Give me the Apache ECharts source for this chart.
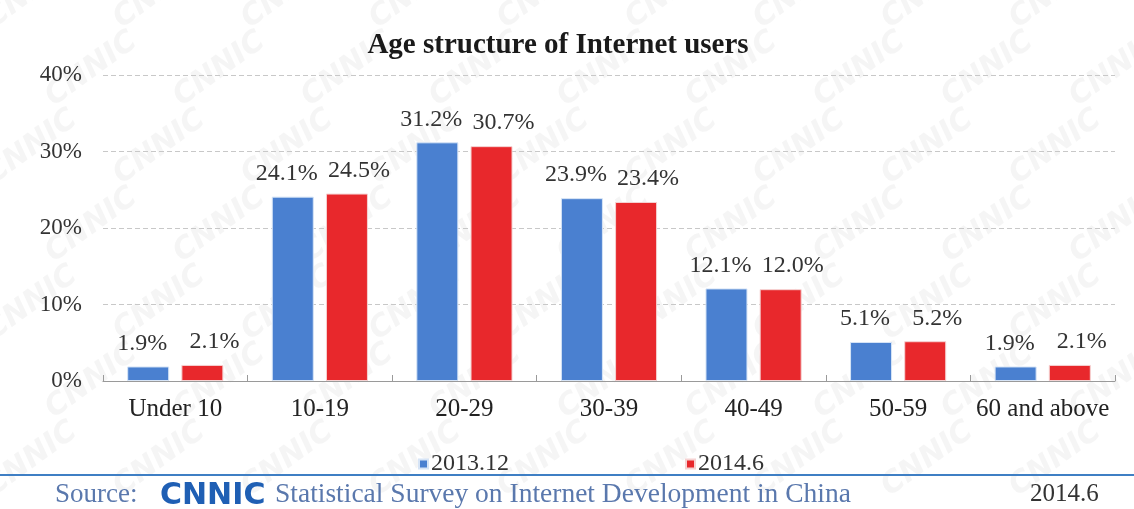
<!DOCTYPE html>
<html>
<head>
<meta charset="utf-8">
<title>Age structure of Internet users</title>
<script src="https://cdn.jsdelivr.net/npm/echarts@6/dist/echarts.min.js"></script>
<style>
  html, body { margin: 0; padding: 0; background: #ffffff; }
  #chart { width: 1134px; height: 509px; }
</style>
</head>
<body>
<div id="chart"></div>
<script>
// Age groups and the share of users in each, two survey rounds
const categories = ['Under 10', '10-19', '20-29', '30-39', '40-49', '50-59', '60 and above'];
const seriesNames = ['2013.12', '2014.6'];
const dec2013 = [1.9, 24.1, 31.2, 23.9, 12.1, 5.1, 1.9];
const jun2014 = [2.1, 24.5, 30.7, 23.4, 12.0, 5.2, 2.1];
const yTicks = { min: 0, max: 40, interval: 10 };

const SERIF = '"Liberation Serif", "DejaVu Serif", serif';
const chart = echarts.init(document.getElementById('chart'), null, { renderer: 'canvas' });

// Faint diagonal "CNNIC" watermark tiled across the canvas
const watermark = [];
for (let row = 0; row < 7; row++) {
  for (let col = 0; col < 10; col++) {
    watermark.push({
      type: 'text',
      x: col * 128 + (row % 2) * 60 - 20,
      y: row * 78 + 10,
      rotation: Math.PI / 5,
      silent: true,
      z: -10,
      style: {
        text: 'CNNIC',
        font: 'italic bold 30px "DejaVu Sans", sans-serif',
        fill: 'rgba(160,160,160,0.10)'
      }
    });
  }
}

// value labels above the bars; the pair in each group is pushed apart a little
function valueLabel(dx) {
  return {
    show: true,
    position: 'top',
    distance: 11,
    offset: [dx, 0],
    fontFamily: SERIF,
    fontSize: 24,
    color: '#333',
    formatter: p => p.value.toFixed(1) + '%'
  };
}

chart.setOption({
  backgroundColor: '#ffffff',
  animation: false,
  title: {
    text: 'Age structure of Internet users',
    left: 553,
    textAlign: 'center',
    top: 26,
    textStyle: { fontFamily: SERIF, fontSize: 29, fontWeight: 'bold', color: '#1a1a1a' }
  },
  legend: {
    data: seriesNames,
    left: 413,
    top: 447,
    icon: 'rect',
    itemWidth: 9,
    itemHeight: 9,
    itemGap: 176,
    textStyle: { fontFamily: SERIF, fontSize: 24, color: '#333', padding: [0, 0, 0, -2] }
  },
  grid: { left: 103, right: 19, top: 75, bottom: 128 },
  xAxis: {
    type: 'category',
    data: categories,
    axisLine: { lineStyle: { color: '#9a9a9a', width: 1 } },
    axisTick: { show: true, inside: true, length: 6, lineStyle: { color: '#9a9a9a' } },
    axisLabel: { interval: 0, fontFamily: SERIF, fontSize: 25, color: '#222', margin: 16 }
  },
  yAxis: {
    type: 'value',
    min: yTicks.min,
    max: yTicks.max,
    interval: yTicks.interval,
    axisLine: { show: false },
    axisTick: { show: false },
    axisLabel: { fontFamily: SERIF, fontSize: 23, color: '#333', margin: 21, formatter: '{value}%' },
    splitLine: { lineStyle: { color: '#c8c8c8', type: [5, 3], width: 1 } }
  },
  series: [
    {
      name: seriesNames[0],
      type: 'bar',
      data: dec2013,
      barWidth: 42,
      barGap: '29%',
      itemStyle: { color: '#4a80d0', borderColor: '#d6e4f6', borderWidth: 1 },
      label: valueLabel(-6)
    },
    {
      name: seriesNames[1],
      type: 'bar',
      data: jun2014,
      barWidth: 42,
      itemStyle: { color: '#e8282c', borderColor: '#f5d2d2', borderWidth: 1 },
      label: valueLabel(12)
    }
  ],
  graphic: watermark.concat([
    // source rule and caption along the bottom
    {
      type: 'line',
      silent: true,
      shape: { x1: 0, y1: 475, x2: 1134, y2: 475 },
      style: { stroke: '#3f7fc4', lineWidth: 2 }
    },
    {
      type: 'text',
      left: 55,
      top: 481,
      style: { text: 'Source:', font: '27px ' + SERIF, fill: '#5a78ad' }
    },
    {
      type: 'text',
      left: 160,
      top: 481,
      style: { text: 'CNNIC', font: '900 30px "DejaVu Sans", sans-serif', fill: '#1f5fb4' }
    },
    {
      type: 'text',
      left: 275,
      top: 481,
      style: { text: 'Statistical Survey on Internet Development in China', font: '27.5px ' + SERIF, fill: '#5a78ad' }
    },
    {
      type: 'text',
      left: 1030,
      top: 482,
      style: { text: '2014.6', font: '25px ' + SERIF, fill: '#333' }
    }
  ])
});
</script>
</body>
</html>
